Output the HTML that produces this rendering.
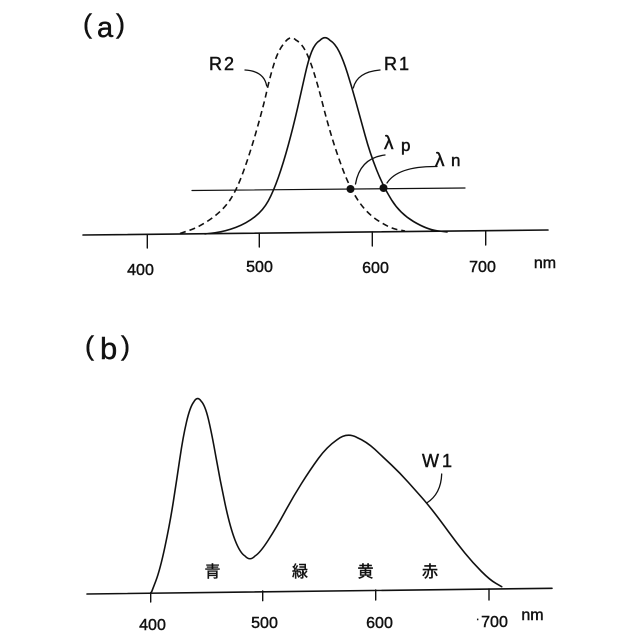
<!DOCTYPE html>
<html><head><meta charset="utf-8"><style>
html,body{margin:0;padding:0;background:#fff;}
svg{display:block;}
text{font-family:"Liberation Sans","Noto Sans CJK JP",sans-serif;fill:#111;stroke:#111;stroke-width:0.45;}
</style></head><body>
<svg width="640" height="640" viewBox="0 0 640 640" xmlns="http://www.w3.org/2000/svg">
<rect width="640" height="640" fill="#fff"/>
<g fill="none" stroke="#111" stroke-linecap="round" stroke-linejoin="round">
<!-- panel a axis -->
<line x1="83" y1="235" x2="548" y2="230" stroke-width="1.6"/>
<line x1="147.3" y1="234.5" x2="147.3" y2="248" stroke-width="1.4"/>
<line x1="259.3" y1="233.3" x2="259.3" y2="247" stroke-width="1.4"/>
<line x1="372.3" y1="232" x2="372.3" y2="246" stroke-width="1.4"/>
<line x1="485.7" y1="231" x2="485.7" y2="245" stroke-width="1.4"/>
<!-- horizontal level line -->
<line x1="192" y1="190.5" x2="465" y2="188" stroke-width="1.2"/>
<!-- R1 -->
<path stroke-width="1.6" d="M205,234 L215,232.75 Q225,231.5 235.85,227.4 Q246.7,223.3 255,216.65 Q263.3,210 268.3,200.85 Q273.3,191.7 278.3,177.5 Q283.3,163.3 288.3,145 Q293.3,126.7 297.5,108.35 Q301.7,90 305,75 Q308.3,60 311.65,51.65 Q315,43.3 320,40.3 Q325,35 330,40.3 Q335,43.3 339.15,51.65 Q343.3,60 347.5,73.35 Q351.7,86.7 355.85,101.7 Q360,116.7 365,135 Q370,153.3 376.65,170 Q383.3,186.7 391.65,200.1 Q400,213.5 413.5,221.5 Q427,229.5 437,230.75 L447,232"/>
<!-- R2 dashed -->
<path stroke-width="1.6" stroke-dasharray="6 4" stroke-linecap="butt" d="M180,233.5 L190,230.1 Q200,226.7 211.65,218.35 Q223.3,210 230,200 Q236.7,190 243.35,171.65 Q250,153.3 256.65,130 Q263.3,106.7 266.65,91.7 Q270,76.7 274.15,63.35 Q278.3,50 284.15,43.35 Q290,34.5 295.85,40 Q301.7,43.3 305.85,51.65 Q310,60 314.15,73.35 Q318.3,86.7 322.5,103.35 Q326.7,120 331.7,136.65 Q336.7,153.3 343.35,170.8 Q350,188.3 358.35,200.8 Q366.7,213.3 378.35,220.8 Q390,228.3 397.5,229.65 L405,231"/>
<!-- leaders a -->
<path stroke-width="1.3" d="M245,70 Q264,71 266.7,86"/>
<path stroke-width="1.3" d="M380,70 Q357,72 353.3,88"/>
<path stroke-width="1.3" d="M385,155 Q360,158 355.5,184"/>
<path stroke-width="1.3" d="M437,166.5 Q398,166 387,183"/>
<!-- panel b axis -->
<line x1="87" y1="594" x2="552" y2="588.3" stroke-width="1.6"/>
<line x1="150.7" y1="592.5" x2="150.7" y2="602" stroke-width="1.4"/>
<line x1="262.7" y1="591" x2="262.7" y2="600.7" stroke-width="1.4"/>
<line x1="375.7" y1="590" x2="375.7" y2="600" stroke-width="1.4"/>
<line x1="489" y1="589" x2="489" y2="600" stroke-width="1.4"/>
<!-- W1 -->
<path stroke-width="1.6" d="M151.7,591.7 L155.85,580.85 Q160,570 165,546.5 Q170,523 173.35,501.5 Q176.7,480 179.85,458.5 Q183,437 186.5,422 Q190,407 193.65,402.15 Q197.3,395.5 201.15,401.15 Q205,405 208.35,419 Q211.7,433 215.85,456.5 Q220,480 225,503.5 Q230,527 235,540 Q240,553 245,556 Q250,561.5 255,556 Q260,553 268.35,540 Q276.7,527 284.85,512 Q293,497 301.5,483.5 Q310,470 318.35,458.5 Q326.7,447 336.7,440 Q346.7,432 356.7,437.35 Q366.7,441.7 374.85,449.35 Q383,457 391.5,465 Q400,473 408.35,482.35 Q416.7,491.7 421.7,497.35 Q426.7,503 433.35,511.5 Q440,520 448.35,531.5 Q456.7,543 464.85,553 Q473,563 481.5,571.5 Q490,580 495.85,583.35 L501.7,586.7"/>
<path stroke-width="1.3" d="M441.7,474 Q441,494 426.7,503"/>
</g>
<!-- dots -->
<circle cx="350.5" cy="189" r="4" fill="#111"/>
<circle cx="383.5" cy="188" r="4" fill="#111"/>

<!-- panel labels -->
<text x="83" y="33" font-size="27">(</text>
<text x="97" y="37" font-size="29">a</text>
<text x="116" y="33" font-size="27">)</text>

<text x="85" y="355" font-size="27">(</text>
<text x="100" y="359" font-size="31">b</text>
<text x="121" y="355" font-size="27">)</text>

<!-- series labels -->
<text x="209" y="70" font-size="18" letter-spacing="2">R2</text>
<text x="384" y="70" font-size="18" letter-spacing="2">R1</text>
<text x="384" y="149" font-size="19">λ</text>
<text x="401" y="151" font-size="17">p</text>
<text x="435" y="166" font-size="19">λ</text>
<text x="451" y="166" font-size="17">n</text>
<text x="422" y="467" font-size="18" letter-spacing="3">W1</text>

<!-- tick labels a -->
<g font-size="16" text-anchor="middle">
<text x="140.5" y="275">400</text>
<text x="259.5" y="272">500</text>
<text x="375.5" y="273">600</text>
<text x="482.5" y="272">700</text>
<text x="545" y="268">nm</text>
<!-- tick labels b -->
<text x="152.5" y="630">400</text>
<text x="264.5" y="628">500</text>
<text x="379.5" y="628">600</text>
<text x="494.5" y="627">700</text>
<text x="532.5" y="620">nm</text>
</g>
<text x="476" y="622" font-size="10">·</text>

<!-- color names -->
<g font-size="16" text-anchor="middle">
<text x="212.5" y="577">青</text>
<text x="300" y="577">緑</text>
<text x="365.5" y="577">黄</text>
<text x="430" y="577">赤</text>
</g>
</svg>
</body></html>
